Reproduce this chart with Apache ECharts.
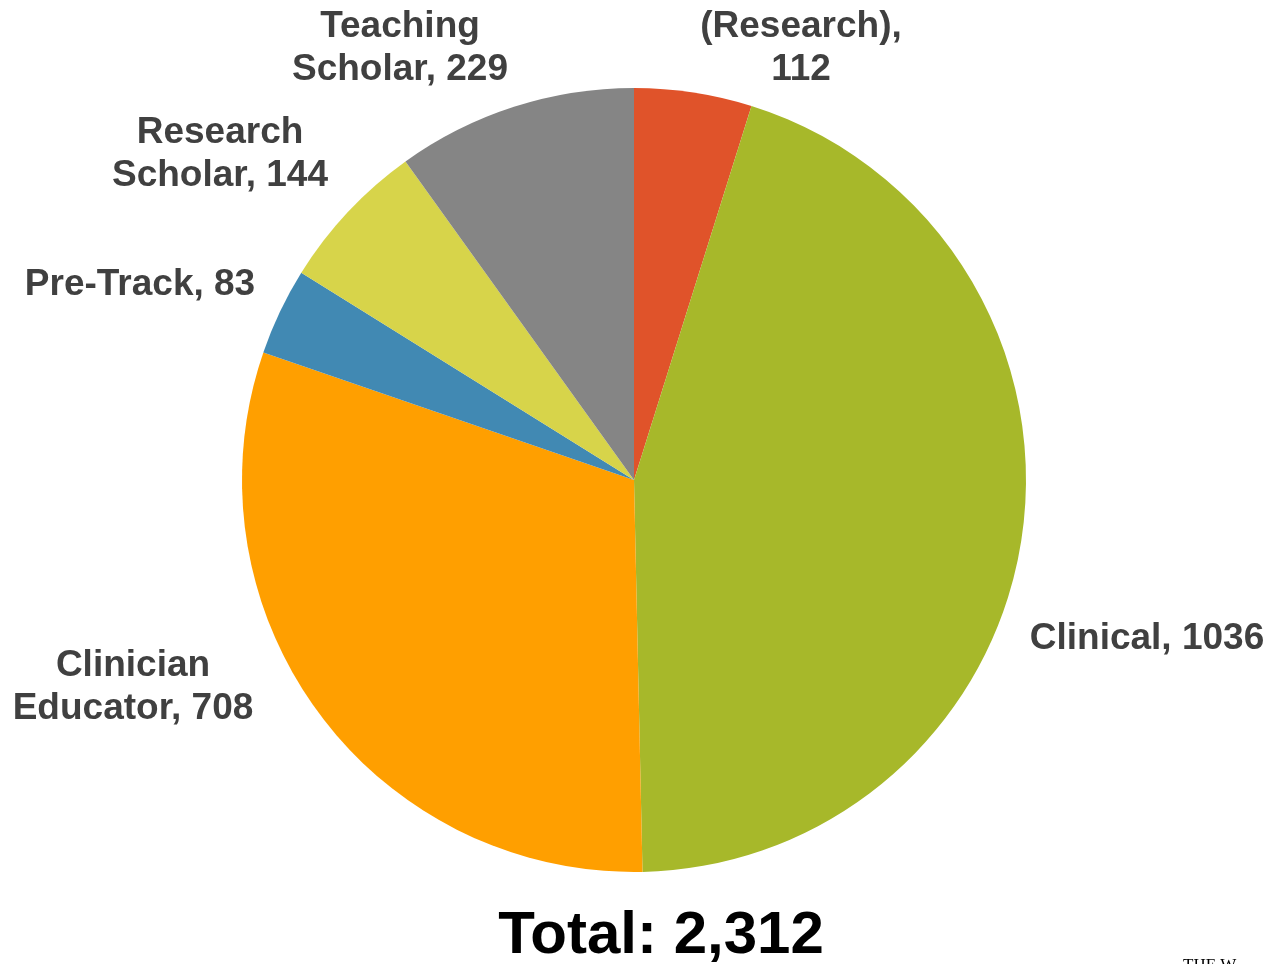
<!DOCTYPE html>
<html>
<head>
<meta charset="utf-8">
<script src="https://cdn.jsdelivr.net/npm/echarts@6/dist/echarts.min.js"></script>
<style>
html,body{margin:0;padding:0;background:#fff;}
#chart{width:1271px;height:964px;}
</style>
</head>
<body>
<div id="chart"></div>
<script>
const categories = ["(Research)", "Clinical", "Clinician\nEducator", "Pre-Track", "Research\nScholar", "Teaching\nScholar"];
const values = [112, 1036, 708, 83, 144, 229];
const totalLabel = "Total: 2,312";

const colors = ["#E0532A", "#A7B82A", "#FF9F00", "#4189B3", "#D7D44A", "#858585"];
const labelAnchors = [[801, 48], [1147, 639], [133, 687], [140, 285], [220, 154], [400, 48]];

const chart = echarts.init(document.getElementById('chart'), null, {renderer: 'canvas'});
const data = categories.map((c, i) => ({
  name: c,
  value: values[i],
  itemStyle: {color: colors[i]},
  label: {formatter: i === 0 ? '{b},\n{c}' : '{b}, {c}'}
}));

chart.setOption({
  animation: false,
  backgroundColor: '#fff',
  series: [{
    type: 'pie',
    center: [634, 480],
    radius: [0, 392],
    startAngle: 90,
    clockwise: true,
    data: data,
    itemStyle: {borderWidth: 0},
    label: {
      show: true,
      position: 'outside',
      color: '#404040',
      fontFamily: 'Liberation Sans, Arial, sans-serif',
      fontWeight: 'bold',
      fontSize: 37,
      lineHeight: 43,
      align: 'center',
      overflow: 'none',
      width: 400
    },
    labelLine: {show: false},
    labelLayout: function (p) {
      const a = labelAnchors[p.dataIndex];
      return {x: a[0], y: a[1], align: 'center', verticalAlign: 'middle'};
    },
    emphasis: {disabled: true}
  }],
  graphic: [
    {
      type: 'text',
      x: 661, y: 936,
      style: {
        text: totalLabel,
        textAlign: 'center',
        textVerticalAlign: 'middle',
        fill: '#000',
        font: 'bold 60px "Liberation Sans", Arial, sans-serif'
      }
    },
    {
      type: 'text',
      x: 1183, y: 957,
      style: {
        text: 'THE W',
        textAlign: 'left',
        textVerticalAlign: 'top',
        fill: '#000',
        font: '17px "Liberation Serif", "DejaVu Serif", serif'
      }
    }
  ]
});
</script>
</body>
</html>
